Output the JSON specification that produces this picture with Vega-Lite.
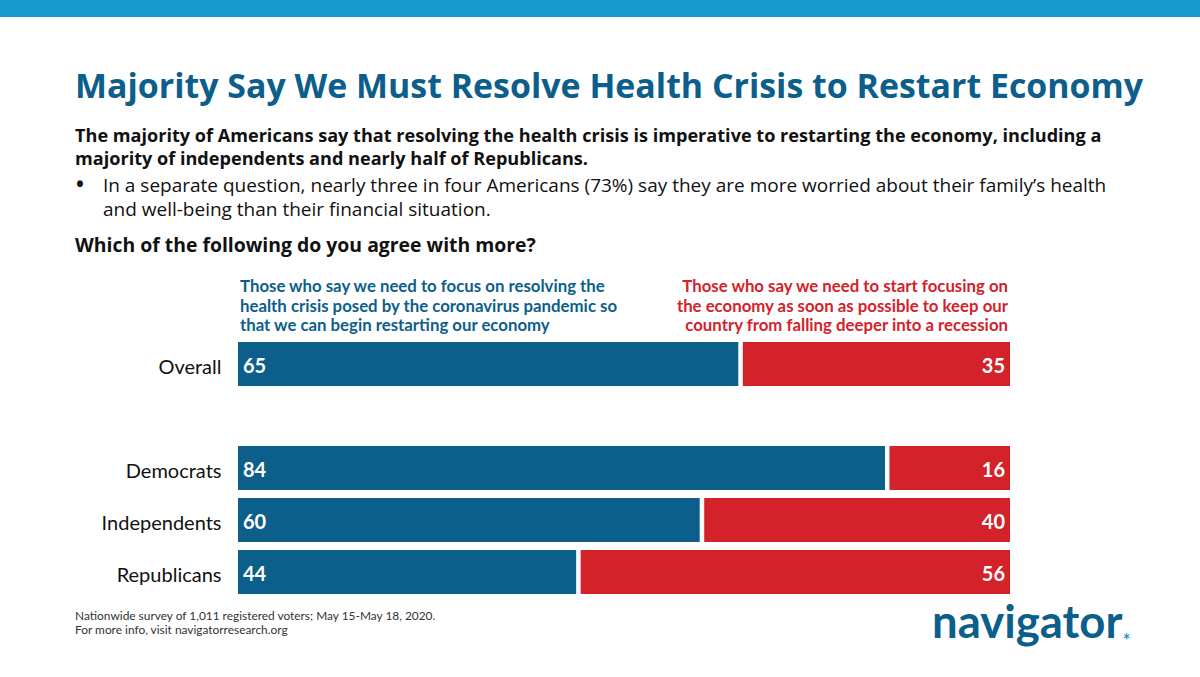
{
  "$schema": "https://vega.github.io/schema/vega-lite/v6.json",
  "autosize": "none",
  "width": 772,
  "height": 260,
  "padding": {"left": 238, "top": 338, "right": 190, "bottom": 79},
  "background": "white",
  "config": {"view": {"stroke": null}, "font": "Lato"},
  "datasets": {
    "bars": [
      {"group": "Overall", "health": 65, "economy": 35},
      {"group": "Democrats", "health": 84, "economy": 16},
      {"group": "Independents", "health": 60, "economy": 40},
      {"group": "Republicans", "health": 44, "economy": 56}
    ]
  },
  "layer": [
    {
      "data": {"name": "bars"},
      "mark": {"type": "bar", "color": "#0C5E8B", "xOffset": -1.5},
      "encoding": {
        "y": {"field": "group", "type": "nominal",
          "scale": {"domain": ["Overall", "gap", "Democrats", "Independents", "Republicans"], "paddingInner": 0.154, "paddingOuter": 0.077},
          "axis": {"title": null, "domain": false, "ticks": false, "labelFontSize": 20, "labelColor": "#111111", "labelPadding": 17, "labelOffset": 4, "labelFont": "Lato", "labelExpr": "datum.value == 'gap' ? '' : datum.value"}},
        "x": {"field": "health", "type": "quantitative", "scale": {"domain": [0, 100]}, "axis": null},
        "x2": {"datum": 0}
      }
    },
    {
      "data": {"name": "bars"},
      "mark": {"type": "bar", "color": "#D3222A", "xOffset": 3},
      "encoding": {
        "y": {"field": "group", "type": "nominal"},
        "x": {"field": "health", "type": "quantitative", "axis": null},
        "x2": {"datum": 100}
      }
    },
    {
      "data": {"name": "bars"},
      "mark": {"type": "text", "color": "white", "fontWeight": "bold", "fontSize": 20, "align": "left", "dx": 5, "dy": 3},
      "encoding": {
        "y": {"field": "group", "type": "nominal"},
        "x": {"datum": 0, "type": "quantitative"},
        "text": {"field": "health"}
      }
    },
    {
      "data": {"name": "bars"},
      "mark": {"type": "text", "color": "white", "fontWeight": "bold", "fontSize": 20, "align": "right", "dx": -5, "dy": 3},
      "encoding": {
        "y": {"field": "group", "type": "nominal"},
        "x": {"datum": 100, "type": "quantitative"},
        "text": {"field": "economy"}
      }
    },
    {
      "data": {"values": [{"t": "band"}]},
      "mark": {"type": "rule", "color": "#179BCD", "strokeWidth": 17, "yOffset": -355.5},
      "encoding": {
        "x": {"datum": -31, "type": "quantitative"},
        "x2": {"datum": 126},
        "y": {"datum": "Overall", "type": "nominal"}
      }
    },
    {
      "data": {"values": [{"text": "Majority Say We Must Resolve Health Crisis to Restart Economy"}]},
      "mark": {"type": "text", "align": "left", "baseline": "middle", "font": "Open Sans", "fontSize": 33.9, "fontWeight": "bold", "color": "#0C5E8B", "yOffset": -276},
      "encoding": {
        "x": {"datum": -21.11, "type": "quantitative"},
        "y": {"datum": "Overall", "type": "nominal"},
        "text": {"field": "text"}
      }
    },
    {
      "data": {"values": [{"text": ["The majority of Americans say that resolving the health crisis is imperative to restarting the economy, including a", "majority of independents and nearly half of Republicans."]}]},
      "mark": {"type": "text", "align": "left", "baseline": "middle", "font": "Open Sans", "fontSize": 18.1, "fontWeight": "bold", "color": "#111111", "lineHeight": 23, "yOffset": -227},
      "encoding": {
        "x": {"datum": -21.11, "type": "quantitative"},
        "y": {"datum": "Overall", "type": "nominal"},
        "text": {"field": "text"}
      }
    },
    {
      "data": {"values": [{"text": "•"}]},
      "mark": {"type": "text", "align": "left", "baseline": "middle", "font": "Open Sans", "fontSize": 21, "fontWeight": "bold", "color": "#111111", "yOffset": -178.5},
      "encoding": {
        "x": {"datum": -21.0, "type": "quantitative"},
        "y": {"datum": "Overall", "type": "nominal"},
        "text": {"field": "text"}
      }
    },
    {
      "data": {"values": [{"text": ["In a separate question, nearly three in four Americans (73%) say they are more worried about their family’s health", "and well-being than their financial situation."]}]},
      "mark": {"type": "text", "align": "left", "baseline": "middle", "font": "Open Sans", "fontSize": 19, "color": "#111111", "lineHeight": 24.5, "yOffset": -178.5},
      "encoding": {
        "x": {"datum": -17.49, "type": "quantitative"},
        "y": {"datum": "Overall", "type": "nominal"},
        "text": {"field": "text"}
      }
    },
    {
      "data": {"values": [{"text": "Which of the following do you agree with more?"}]},
      "mark": {"type": "text", "align": "left", "baseline": "middle", "font": "Open Sans", "fontSize": 19.4, "fontWeight": "bold", "color": "#111111", "yOffset": -118},
      "encoding": {
        "x": {"datum": -21.11, "type": "quantitative"},
        "y": {"datum": "Overall", "type": "nominal"},
        "text": {"field": "text"}
      }
    },
    {
      "data": {"values": [{"text": ["Those who say we need to focus on resolving the", "health crisis posed by the coronavirus pandemic so", "that we can begin restarting our economy"]}]},
      "mark": {"type": "text", "align": "left", "baseline": "middle", "fontSize": 16.8, "fontWeight": "bold", "color": "#0C5E8B", "lineHeight": 19.5, "yOffset": -77, "dx": 2},
      "encoding": {
        "x": {"datum": 0, "type": "quantitative"},
        "y": {"datum": "Overall", "type": "nominal"},
        "text": {"field": "text"}
      }
    },
    {
      "data": {"values": [{"text": ["Those who say we need to start focusing on", "the economy as soon as possible to keep our", "country from falling deeper into a recession"]}]},
      "mark": {"type": "text", "align": "right", "baseline": "middle", "fontSize": 16.8, "fontWeight": "bold", "color": "#D3222A", "lineHeight": 19.5, "yOffset": -77, "dx": -2},
      "encoding": {
        "x": {"datum": 100, "type": "quantitative"},
        "y": {"datum": "Overall", "type": "nominal"},
        "text": {"field": "text"}
      }
    },
    {
      "data": {"values": [{"text": ["Nationwide survey of 1,011 registered voters; May 15-May 18, 2020.", "For more info, visit navigatorresearch.org"]}]},
      "mark": {"type": "text", "align": "left", "baseline": "middle", "fontSize": 11.9, "color": "#333333", "lineHeight": 13.5, "yOffset": 252},
      "encoding": {
        "x": {"datum": -21.11, "type": "quantitative"},
        "y": {"datum": "Overall", "type": "nominal"},
        "text": {"field": "text"}
      }
    },
    {
      "data": {"values": [{"text": "navigator"}]},
      "mark": {"type": "text", "align": "left", "baseline": "alphabetic", "fontSize": 45.5, "fontWeight": "bold", "color": "#0C5E8B", "yOffset": 274},
      "encoding": {
        "x": {"datum": 89.9, "type": "quantitative"},
        "y": {"datum": "Overall", "type": "nominal"},
        "text": {"field": "text"}
      }
    },
    {
      "data": {"values": [{"text": "*"}]},
      "mark": {"type": "text", "align": "left", "baseline": "alphabetic", "fontSize": 18, "fontWeight": "bold", "color": "#1E9CD7", "yOffset": 283},
      "encoding": {
        "x": {"datum": 114.6, "type": "quantitative"},
        "y": {"datum": "Overall", "type": "nominal"},
        "text": {"field": "text"}
      }
    }
  ]
}
